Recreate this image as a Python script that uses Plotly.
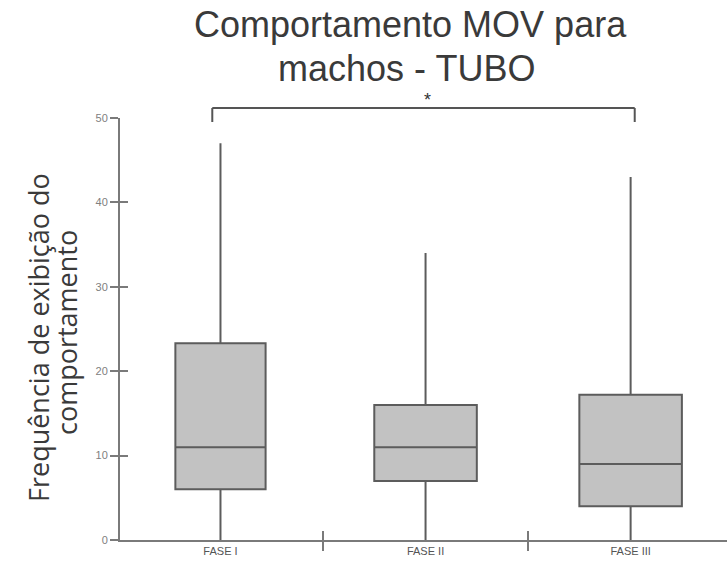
import plotly.graph_objects as go

categories = ["FASE I", "FASE II", "FASE III"]
q1 = [6, 7, 4]
medians = [11, 11, 9]
q3 = [23.3, 16, 17.2]
lower = [0, 0, 0]
upper = [47, 34, 43]
y_ticks = [0, 10, 20, 30, 40, 50]
box_widths = [0.44, 0.5, 0.5]

fig = go.Figure()
for i, c in enumerate(categories):
    fig.add_trace(go.Box(
        x=[c], q1=[q1[i]], median=[medians[i]], q3=[q3[i]],
        lowerfence=[lower[i]], upperfence=[upper[i]],
        fillcolor="#c2c2c2", line=dict(color="#5c5c5c", width=2),
        whiskerwidth=0, width=box_widths[i], boxpoints=False, showlegend=False,
        hoverinfo="skip",
    ))

axis_col = "#7a7a7a"
L, T, B = 120, 118, 30
PW = 727 - L
PH = 570 - T - B


def py(p):
    return (570 - B - p) / PH


def px(p):
    return (p - L) / PW


fig.update_layout(
    width=727, height=570,
    margin=dict(l=L, r=0, t=T, b=B),
    paper_bgcolor="white", plot_bgcolor="white",
    font=dict(family="Arial, Liberation Sans, sans-serif"),
    boxmode="overlay",
    xaxis=dict(type="category", categoryorder="array", categoryarray=categories,
               range=[-0.49, 2.47], showgrid=False,
               showline=True, linecolor=axis_col, linewidth=2,
               ticks="outside", tickson="boundaries", ticklen=9,
               tickcolor=axis_col, tickwidth=2,
               tickfont=dict(size=11, color="#555555"), zeroline=False),
    xaxis2=dict(type="category", categoryorder="array", categoryarray=categories,
                range=[-0.49, 2.47], overlaying="x",
                showticklabels=False, ticks="inside", tickson="boundaries",
                ticklen=9, tickcolor=axis_col, tickwidth=2, showgrid=False,
                zeroline=False, showline=False),
    yaxis=dict(range=[0, 50], tickvals=y_ticks, showgrid=False,
               showline=True, linecolor=axis_col, linewidth=2,
               ticks="outside", ticklen=8, tickcolor=axis_col, tickwidth=2,
               tickfont=dict(size=11, color="#808080"), zeroline=False),
    yaxis2=dict(range=[0, 50], tickvals=y_ticks, overlaying="y",
                showticklabels=False, ticks="inside", ticklen=8,
                tickcolor=axis_col, tickwidth=2, showgrid=False,
                zeroline=False, showline=False),
)
# invisible trace to activate the overlay axes (inner halves of ticks)
fig.add_trace(go.Scatter(x=categories, y=[None] * 3, xaxis="x2", yaxis="y2",
                         showlegend=False, hoverinfo="skip"))

# title (two lines)
title_font = dict(size=36, color="#3a3a3a", family="Arial, Liberation Sans, sans-serif")
fig.add_annotation(x=px(410), y=py(2), xref="paper", yref="paper",
                   text="Comportamento MOV para", showarrow=False,
                   xanchor="center", yanchor="top", font=title_font)
fig.add_annotation(x=px(406), y=py(46), xref="paper", yref="paper",
                   text="machos - TUBO", showarrow=False,
                   xanchor="center", yanchor="top", font=title_font)

# significance bracket
yb = py(108)
yl = py(122)
for x0, y0, x1, y1 in [(-0.04, yb, 2.02, yb), (-0.04, yb, -0.04, yl), (2.02, yb, 2.02, yl)]:
    fig.add_shape(type="line", xref="x", yref="paper", x0=x0, y0=y0, x1=x1, y1=y1,
                  line=dict(color="#555555", width=2))
fig.add_annotation(x=1.01, y=py(100), xref="x", yref="paper", text="*", showarrow=False,
                   yanchor="middle", font=dict(size=18, color="#333333"))

# y axis title (two lines)
lab_font = dict(size=27, color="#3a3a3a", family="Open Sans, sans-serif")
fig.add_annotation(x=px(38), y=py(338), xref="paper", yref="paper",
                   text="Frequência de exibição do", textangle=-90,
                   showarrow=False, xanchor="center", yanchor="middle", font=lab_font)
fig.add_annotation(x=px(66), y=py(333), xref="paper", yref="paper",
                   text="comportamento", textangle=-90,
                   showarrow=False, xanchor="center", yanchor="middle", font=lab_font)

fig.write_html("out.html")
